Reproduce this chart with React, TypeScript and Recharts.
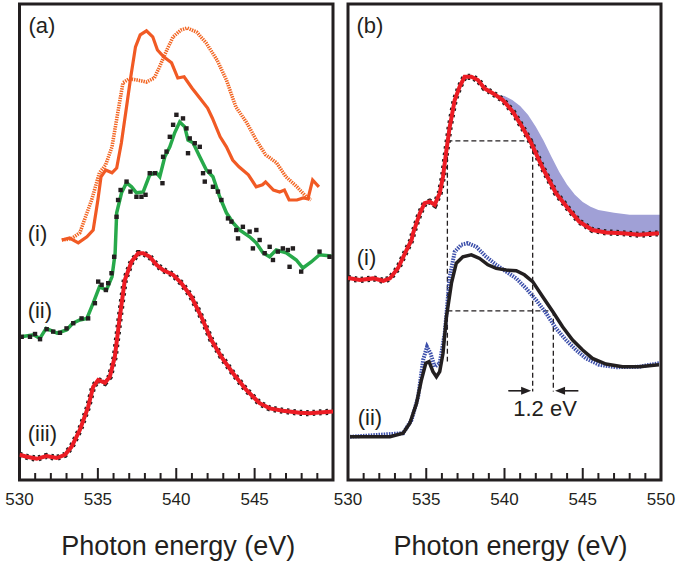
import React from "react";
import {
  Area,
  ComposedChart,
  Line,
  ReferenceArea,
  ReferenceDot,
  ReferenceLine,
  XAxis,
  YAxis,
} from "recharts";

const INK = "#231f20";
const FONT = "'Liberation Sans', Arial, Helvetica, sans-serif";

const energyTicks = [530, 531, 532, 533, 534, 535, 536, 537, 538, 539, 540, 541, 542, 543, 544, 545, 546, 547, 548, 549, 550];

// panel (a) - [photon energy, offset intensity (a.u.)]
const orangeSolid = [
  [532.7, 60], [533.2, 60.5], [533.75, 59.3], [534.3, 60.8], [534.7, 62.5], [535.0, 70], [535.2, 75.8],
  [535.5, 77.5], [535.9, 76.8], [536.2, 78], [536.5, 84.3], [536.8, 92.5], [537.1, 100.8], [537.4, 108.3],
  [537.7, 111.3], [538.1, 112.3], [538.5, 110.8], [538.8, 107.5], [539.2, 105.8], [539.7, 104.3], [540.1, 100.5],
  [540.5, 100.8], [541.0, 98], [541.5, 95.5], [542.0, 93], [542.3, 90.5], [542.8, 85.8], [543.2, 83.3],
  [543.6, 80], [544.0, 78.3], [544.6, 76.3], [545.1, 73.3], [545.5, 73.8], [545.7, 74.5], [546.2, 72.5],
  [546.6, 72], [546.9, 72.5], [547.2, 70], [547.7, 70], [548.1, 70.5], [548.4, 70.3], [548.7, 75], [549.1, 73.3],
];
const orangeDotted = [
  [532.7, 60], [533.3, 60.3], [533.85, 61.8], [534.6, 70], [535.1, 76.8], [535.5, 78.8], [535.9, 83.3],
  [536.3, 92.5], [536.6, 99.3], [537.0, 100.3], [537.5, 100], [538.1, 99.5], [538.6, 100.5], [538.9, 103],
  [539.4, 107.5], [539.8, 110.8], [540.3, 112.5], [540.7, 113], [541.3, 112], [541.9, 109.3], [542.6, 105],
  [543.2, 100], [543.8, 93.3], [544.5, 89.3], [545.1, 85], [545.7, 81.3], [546.4, 79.3], [547.0, 75.8],
  [547.7, 73.3], [548.3, 70.8], [548.6, 70],
];
const greenFit = [
  [530.1, 35.8], [530.9, 36.3], [531.3, 35.4], [531.7, 37.9], [532.4, 36.7], [533.0, 37.5], [533.4, 39.2],
  [533.85, 40], [534.3, 40.4], [534.7, 44.2], [535.1, 48.3], [535.55, 47.5], [535.9, 50.8], [536.1, 56.7],
  [536.2, 66.8], [536.51, 71.8], [536.83, 74.3], [537.15, 73.3], [537.46, 71.8], [537.89, 72], [538.31, 76.3],
  [538.74, 76.8], [538.95, 75.8], [539.27, 80.8], [539.59, 83.3], [539.9, 86.8], [540.22, 89.5], [540.54, 88.3],
  [540.75, 85], [541.07, 84.3], [541.5, 80.8], [541.92, 77.5], [542.34, 75.8], [542.77, 70.8], [543.2, 66.8],
  [543.62, 64.3], [544.04, 62.5], [544.68, 60.8], [545.1, 59.3], [545.53, 56.8], [545.95, 55.8], [546.38, 57.5],
  [547.02, 56.8], [547.66, 55], [548.08, 53], [548.61, 54.5], [549.14, 56.3], [549.89, 56],
];
const greenPoints = [
  [530.14, 35.8], [530.67, 35.8], [530.99, 36.5], [531.31, 35.2], [531.73, 37.7], [532.15, 37.1], [532.58, 36.8],
  [533.0, 37.9], [533.43, 39.2], [533.96, 40.4], [534.38, 40.4], [534.81, 44.2], [535.02, 49.6], [535.24, 48.8],
  [535.51, 47.5], [535.66, 49.2], [535.87, 51.7], [536.04, 55.8], [536.19, 65.8], [536.29, 70], [536.45, 72.5],
  [536.83, 74.6], [537.08, 72.1], [537.46, 70.8], [537.78, 70.8], [538.04, 71.3], [538.31, 76.7], [538.63, 76.7],
  [539.12, 74.2], [539.16, 80.8], [539.38, 82.1], [539.59, 85.8], [539.8, 88.8], [540.01, 91.3], [540.43, 90.4],
  [540.65, 87.9], [540.86, 85.4], [540.75, 81.7], [541.18, 84.2], [541.5, 83.3], [541.71, 76.7], [541.82, 74.6],
  [542.13, 77.1], [542.34, 73.3], [542.66, 72.1], [542.88, 70], [543.3, 65.4], [543.52, 64.6], [543.83, 62.5],
  [543.94, 60.4], [544.25, 63.3], [544.68, 62.1], [545.11, 62.5], [545.32, 60], [544.89, 57.9], [545.64, 56.7],
  [545.96, 58.3], [546.17, 55], [546.48, 57.1], [546.8, 57.9], [547.12, 57.5], [547.23, 53.3], [547.44, 57.9],
  [547.97, 52.1], [549.14, 57.1], [549.78, 55.8],
];
const redA = [
  [530.0, 6.3], [530.46, 5.8], [531.1, 5.3], [531.73, 6], [532.37, 5.5], [532.9, 6.3], [533.32, 8.3],
  [533.85, 12.5], [534.38, 18.3], [534.7, 23.3], [535.02, 25], [535.45, 24.3], [535.76, 25.8], [536.08, 30.8],
  [536.4, 40.8], [536.72, 50], [537.15, 54.6], [537.57, 56.7], [537.89, 56.7], [538.31, 55.8], [538.74, 53.8],
  [539.16, 52.5], [539.8, 51.3], [540.33, 49.2], [540.97, 45.8], [541.6, 40.8], [542.24, 35], [542.88, 30.8],
  [543.62, 26.7], [544.47, 22.5], [545.32, 19.2], [545.96, 17.9], [546.8, 17.3], [547.87, 16.8], [548.5, 16.7],
  [549.14, 16.9], [550.0, 17.1],
];

// panel (b)
const redB = [
  [530.0, 50.5], [530.76, 50], [531.61, 50.4], [532.25, 49.8], [532.68, 50.4], [533.2, 53], [533.74, 57.5],
  [534.06, 60], [534.16, 61.7], [534.59, 66.7], [534.9, 69.2], [535.22, 69.6], [535.54, 68.8], [535.86, 71.7],
  [536.07, 75.8], [536.29, 82.5], [536.5, 88.3], [536.82, 95], [537.13, 98.3], [537.45, 100.8], [537.88, 100.8],
  [538.3, 100], [538.73, 97.9], [539.25, 96.7], [539.89, 95], [540.53, 92.1], [541.17, 88], [541.7, 84.3],
  [542.44, 78], [543.29, 71.7], [544.14, 67.5], [544.78, 64.6], [545.62, 62.5], [546.48, 61.9], [547.54, 61.7],
  [548.6, 61.3], [549.87, 61.7],
];
const bandEnergy = [539.3, 540.0, 540.5, 541.0, 541.5, 542.0, 542.5, 543.0, 543.5, 544.0, 544.5, 545.0, 545.5, 546.0, 547.0, 548.0, 549.0, 550.0];
const bandLower = [96.5, 94.8, 92.2, 89, 85.7, 81.5, 77.5, 73, 70.5, 68.2, 65.8, 64, 62.8, 62.2, 61.8, 61.5, 61.5, 61.7];
const bandUpper = [96.5, 96, 95, 93.5, 91.3, 88.3, 84.8, 80.8, 77, 73.8, 71.3, 69.5, 68.3, 67.5, 66.8, 66.3, 66.3, 66.3];
const blackB = [
  [530.13, 10.8], [531.61, 10.8], [532.68, 10.8], [533.52, 11.7], [533.95, 14.2], [534.38, 19.2], [534.69, 25],
  [534.97, 29.2], [535.18, 29.6], [535.43, 27.1], [535.65, 25.8], [535.86, 27.1], [536.07, 31.7], [536.29, 40.8],
  [536.61, 49.2], [536.92, 54.2], [537.34, 55.8], [537.88, 56.3], [538.41, 55.4], [538.94, 53.8], [539.47, 52.9],
  [540.11, 52.5], [540.75, 52.3], [541.27, 51.3], [541.8, 49.6], [542.44, 45.8], [543.08, 42.1], [543.71, 38.3],
  [544.35, 35], [544.99, 32.5], [545.62, 30.4], [546.48, 29], [547.54, 28.3], [548.6, 28.3], [549.87, 28.8],
];
const blueB = [
  [530.13, 10.8], [533.52, 11.7], [534.06, 15], [534.48, 20.8], [534.8, 30], [535.05, 33.3], [535.27, 31.7],
  [535.54, 28.3], [535.86, 29.2], [536.18, 36.7], [536.5, 50.8], [536.82, 57.1], [537.24, 58.8], [537.66, 59.2],
  [538.2, 58.3], [538.83, 55.8], [539.47, 53.8], [540.11, 52.1], [540.75, 50.4], [541.38, 47.9], [542.02, 45],
  [542.66, 41.7], [543.29, 37.9], [543.93, 35], [544.57, 32.5], [545.2, 30.4], [546.05, 28.8], [547.11, 28.2],
  [548.6, 28.3], [549.87, 29.2],
];

// guide lines for the 1.2 eV shift
const guideSegments = [
  [[536.35, 84.8], [541.8, 84.8]],
  [[536.35, 84.8], [536.35, 29.6]],
  [[541.8, 84.8], [541.8, 22.1]],
  [[536.35, 42.3], [543.12, 42.3]],
  [[543.12, 42.3], [543.12, 22.1]],
];
const shiftArrows = [
  [[540.24, 22.3], [541.7, 22.3]],
  [[544.72, 22.3], [543.23, 22.3]],
];

const rows = (pts: number[][]) => pts.map(([e, v]) => ({ e, v }));
const bandRows = bandEnergy.map((e, i) => ({ e, range: [bandLower[i], bandUpper[i]] }));

function EnergyTick({ x, y, payload, hideLast }: any) {
  const v = payload.value;
  const major = v % 5 === 0;
  const showLabel = major && !(hideLast && v === 550);
  return (
    <g>
      <line x1={x} x2={x} y1={y} y2={y - (major ? 12 : 7)} stroke={INK} strokeWidth={2} />
      {showLabel && (
        <text x={x} y={y + 25} textAnchor="middle" fontSize={17} fill={INK} fontFamily={FONT}>
          {v}
        </text>
      )}
    </g>
  );
}

const square = (p: any) => (
  <rect key={`sq-${p.index}`} x={p.cx - 2.2} y={p.cy - 2.2} width={4.4} height={4.4} fill={INK} />
);

const arrowShape = (p: any) => {
  const dir = p.x2 > p.x1 ? 1 : -1;
  return (
    <g>
      <line x1={p.x1} y1={p.y1} x2={p.x2 - dir * 6} y2={p.y2} stroke={INK} strokeWidth={1.6} />
      <polygon points={`${p.x2},${p.y2} ${p.x2 - dir * 10},${p.y2 - 4} ${p.x2 - dir * 10},${p.y2 + 4}`} fill={INK} />
    </g>
  );
};

const tag = (key: string, e: number, v: number, text: string) => (
  <ReferenceDot
    key={key}
    x={e}
    y={v}
    r={0}
    ifOverflow="visible"
    label={{ value: text, position: "center", fontSize: 22, fill: INK, fontFamily: FONT }}
  />
);

function Panel({ left, right, hideLast, titleShift, children }: any) {
  return (
    <ComposedChart width={341} height={561} margin={{ top: 4, right, bottom: 0, left }}>
      <XAxis
        type="number"
        dataKey="e"
        domain={[530, 550]}
        ticks={energyTicks}
        interval={0}
        allowDataOverflow
        axisLine={false}
        tickLine={false}
        tickSize={0}
        tickMargin={0}
        height={81}
        tick={(p: any) => <EnergyTick {...p} hideLast={hideLast} />}
        label={{ value: "Photon energy (eV)", position: "insideBottom", offset: 6, dx: titleShift, fontSize: 27, fill: INK, fontFamily: FONT }}
      />
      <YAxis type="number" domain={[0, 119]} hide allowDataOverflow />
      {children}
      <ReferenceArea x1={530} x2={550} y1={0} y2={119} fill="none" stroke={INK} strokeWidth={3} ifOverflow="visible" />
    </ComposedChart>
  );
}

export default function App() {
  return (
    <div style={{ position: "absolute", left: 0, top: 0, width: 682, height: 561, background: "#fff" }}>
      <style>{`svg { overflow: visible; }`}</style>
      <div style={{ position: "absolute", left: 0, top: 0 }}>
        <Panel left={19.5} right={8} hideLast titleShift={2}>
          <Line data={rows(orangeDotted)} dataKey="v" type="linear" stroke="#f26522" strokeWidth={3.6} strokeDasharray="1.4 1" dot={false} isAnimationActive={false} />
          <Line data={rows(orangeSolid)} dataKey="v" type="linear" stroke="#f15a24" strokeWidth={3.2} dot={false} isAnimationActive={false} />
          <Line data={rows(greenPoints)} dataKey="v" type="linear" stroke="none" dot={square} isAnimationActive={false} />
          <Line data={rows(greenFit)} dataKey="v" type="linear" stroke="#27a94a" strokeWidth={3.5} dot={false} isAnimationActive={false} />
          <Line data={rows(redA)} dataKey="v" type="linear" stroke={INK} strokeWidth={6.2} strokeDasharray="2.5 4" dot={false} isAnimationActive={false} />
          <Line data={rows(redA)} dataKey="v" type="linear" stroke="#ec1c24" strokeWidth={4} dot={false} isAnimationActive={false} />
          {tag("a", 531.43, 113.75, "(a)")}
          {tag("ai", 531.15, 61.75, "(i)")}
          {tag("aii", 531.3, 42.5, "(ii)")}
          {tag("aiii", 531.46, 11.75, "(iii)")}
        </Panel>
      </div>
      <div style={{ position: "absolute", left: 341, top: 0 }}>
        <Panel left={7} right={21} hideLast={false} titleShift={6}>
          <Area data={bandRows} dataKey="range" type="linear" stroke="none" fill="#a0a0d6" fillOpacity={1} isAnimationActive={false} />
          {guideSegments.map((s, i) => (
            <ReferenceLine
              key={`g${i}`}
              segment={[{ x: s[0][0], y: s[0][1] }, { x: s[1][0], y: s[1][1] }]}
              stroke={INK}
              strokeWidth={1.3}
              strokeDasharray="5 3"
              ifOverflow="visible"
            />
          ))}
          {shiftArrows.map((s, i) => (
            <ReferenceLine
              key={`a${i}`}
              segment={[{ x: s[0][0], y: s[0][1] }, { x: s[1][0], y: s[1][1] }]}
              shape={arrowShape}
              ifOverflow="visible"
            />
          ))}
          <Line data={rows(redB)} dataKey="v" type="linear" stroke={INK} strokeWidth={6.2} strokeDasharray="2.5 4" dot={false} isAnimationActive={false} />
          <Line data={rows(redB)} dataKey="v" type="linear" stroke="#ec1c24" strokeWidth={4} dot={false} isAnimationActive={false} />
          <Line data={rows(blueB)} dataKey="v" type="linear" stroke="#3b4eaa" strokeWidth={4} strokeDasharray="1.5 1.1" dot={false} isAnimationActive={false} />
          <Line data={rows(blackB)} dataKey="v" type="linear" stroke={INK} strokeWidth={3.5} dot={false} isAnimationActive={false} />
          {tag("b", 531.4, 113.75, "(b)")}
          {tag("bi", 531.18, 55.75, "(i)")}
          {tag("bii", 531.4, 15.75, "(ii)")}
          {tag("shift", 542.59, 18, "1.2 eV")}
        </Panel>
      </div>
    </div>
  );
}
